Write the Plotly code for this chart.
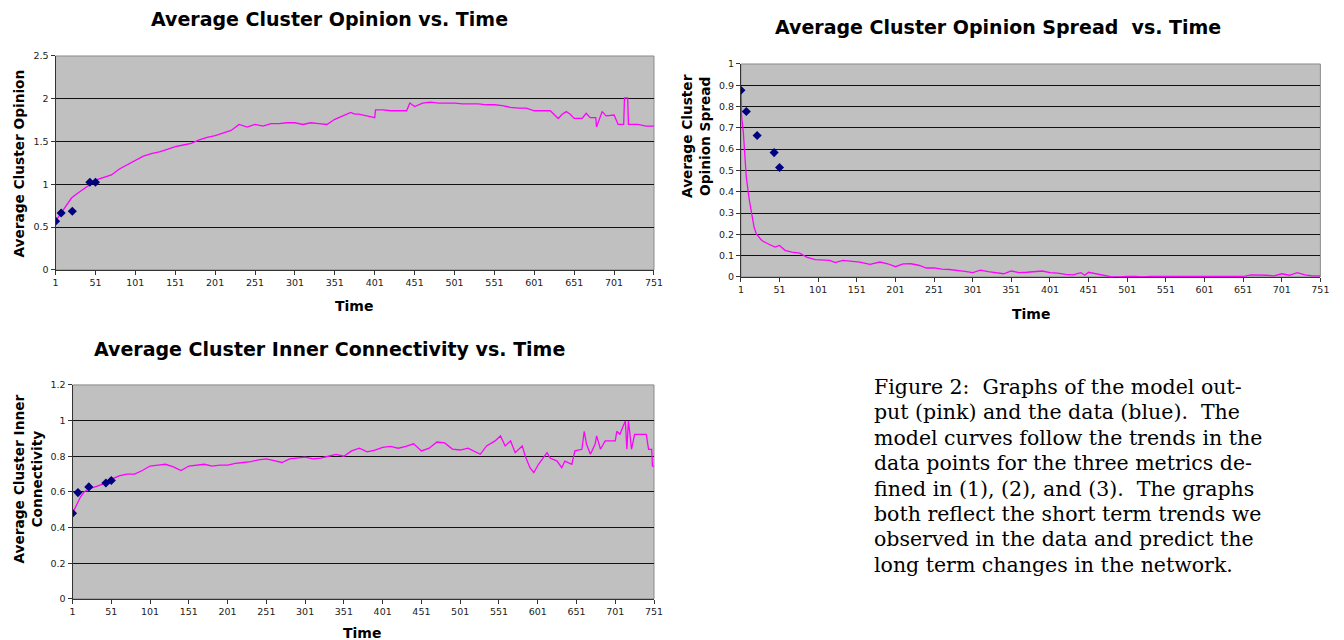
import plotly.graph_objects as go

W, H = 1344, 640

# ---------------- data ----------------
data_t = [1, 8, 22, 44, 51]
opinion_data = [0.57, 0.665, 0.685, 1.025, 1.025]
spread_data = [0.877, 0.777, 0.664, 0.584, 0.514]
connect_data = [0.480, 0.596, 0.628, 0.650, 0.664]

opinion_t = [1, 6, 11, 16, 21, 26, 31, 36, 41, 46, 51, 61, 71, 81, 91, 101, 111, 121, 131, 141,
             151, 161, 171, 181, 191, 201, 211, 221, 231, 241, 251, 261, 271, 281, 291, 301,
             311, 321, 331, 341, 351, 361, 371, 376, 381, 391, 401, 402, 411, 421, 431, 441,
             445, 451, 461, 471, 481, 491, 501, 511, 521, 531, 541, 551, 561, 571, 581, 591,
             601, 611, 621, 631, 636, 641, 646, 651, 661, 666, 671, 678, 679, 686, 691, 701,
             706, 713, 714, 718, 719, 731, 741, 751]
opinion_model = [0.57, 0.64, 0.70, 0.77, 0.84, 0.88, 0.91, 0.94, 0.97, 1.01, 1.05, 1.08, 1.11,
                 1.18, 1.23, 1.29, 1.33, 1.36, 1.38, 1.41, 1.44, 1.46, 1.48, 1.52, 1.55, 1.57,
                 1.60, 1.63, 1.70, 1.67, 1.70, 1.68, 1.71, 1.71, 1.72, 1.72, 1.70, 1.72, 1.71,
                 1.70, 1.76, 1.80, 1.84, 1.82, 1.82, 1.80, 1.78, 1.87, 1.87, 1.86, 1.86, 1.86,
                 1.95, 1.91, 1.95, 1.96, 1.95, 1.95, 1.95, 1.94, 1.94, 1.94, 1.93, 1.93, 1.92,
                 1.90, 1.89, 1.89, 1.86, 1.86, 1.86, 1.77, 1.82, 1.85, 1.82, 1.77, 1.77, 1.83,
                 1.78, 1.78, 1.67, 1.85, 1.80, 1.81, 1.70, 1.70, 2.01, 2.01, 1.70, 1.70, 1.68, 1.68]

spread_t = [1, 2, 4, 6, 8, 12, 15, 18, 21, 28, 36, 45, 51, 58, 67, 77, 86, 97, 116, 123, 133,
            155, 168, 181, 191, 201, 211, 221, 231, 241, 251, 261, 271, 281, 291, 301, 311, 321,
            331, 341, 351, 361, 371, 381, 391, 401, 411, 421, 431, 441, 446, 451, 461, 471, 481,
            491, 501, 511, 521, 531, 541, 561, 581, 601, 621, 641, 651, 661, 671, 681, 691, 701,
            711, 721, 731, 741, 751]
spread_model = [0.875, 0.75, 0.685, 0.545, 0.467, 0.358, 0.296, 0.234, 0.202, 0.171, 0.156,
                0.140, 0.148, 0.125, 0.117, 0.112, 0.093, 0.081, 0.078, 0.067, 0.078, 0.070,
                0.059, 0.070, 0.062, 0.048, 0.061, 0.062, 0.055, 0.042, 0.043, 0.037, 0.035,
                0.032, 0.026, 0.020, 0.032, 0.025, 0.020, 0.015, 0.028, 0.020, 0.022, 0.025,
                0.028, 0.020, 0.018, 0.012, 0.010, 0.020, 0.008, 0.022, 0.015, 0.005, 0.0, 0.0,
                0.003, 0.002, 0.0, 0.002, 0.002, 0.003, 0.002, 0.002, 0.002, 0.002, 0.002, 0.010,
                0.010, 0.008, 0.005, 0.015, 0.008, 0.020, 0.010, 0.005, 0.005]

connect_t = [1, 6, 11, 16, 21, 31, 41, 51, 61, 71, 81, 91, 101, 111, 121, 131, 141, 151, 161,
             171, 181, 191, 201, 211, 221, 231, 241, 251, 261, 271, 281, 291, 301, 311, 321, 331,
             341, 351, 361, 371, 381, 391, 401, 411, 421, 431, 441, 451, 461, 471, 481, 491, 501,
             511, 521, 527, 535, 546, 553, 559, 566, 572, 581, 585, 591, 596, 602, 613, 617, 626,
             632, 636, 645, 649, 658, 661, 664, 669, 675, 677, 682, 688, 701, 703, 707, 713, 714,
             716, 718, 720, 722, 726, 741, 744, 748, 749, 751]
connect_model = [0.48, 0.53, 0.57, 0.60, 0.615, 0.63, 0.645, 0.67, 0.69, 0.70, 0.70, 0.72, 0.745,
                 0.75, 0.755, 0.74, 0.72, 0.745, 0.75, 0.755, 0.745, 0.75, 0.75, 0.76, 0.765,
                 0.77, 0.78, 0.785, 0.775, 0.765, 0.785, 0.79, 0.795, 0.785, 0.79, 0.80, 0.81,
                 0.80, 0.83, 0.845, 0.825, 0.835, 0.85, 0.855, 0.845, 0.855, 0.87, 0.83, 0.845,
                 0.88, 0.875, 0.84, 0.835, 0.845, 0.825, 0.811, 0.858, 0.886, 0.914, 0.858, 0.886,
                 0.82, 0.858, 0.80, 0.736, 0.708, 0.755, 0.82, 0.79, 0.773, 0.736, 0.773, 0.755,
                 0.83, 0.839, 0.94, 0.867, 0.811, 0.867, 0.914, 0.839, 0.886, 0.886, 0.94, 0.923,
                 0.998, 0.998, 0.839, 0.998, 0.923, 0.839, 0.923, 0.923, 0.839, 0.839, 0.745, 0.745]

time_ticks = list(range(1, 752, 50))

titles = ["Average Cluster Opinion vs. Time",
          "Average Cluster Opinion Spread  vs. Time",
          "Average Cluster Inner Connectivity vs. Time"]

caption_lines = [
    "Figure 2:  Graphs of the model out-",
    "put (pink) and the data (blue).  The",
    "model curves follow the trends in the",
    "data points for the three metrics de-",
    "fined in (1), (2), and (3).  The graphs",
    "both reflect the short term trends we",
    "observed in the data and predict the",
    "long term changes in the network.",
]

# ---------------- layout helpers ----------------
# measured mapping of the photographed page: shown = 10.4 + 0.992*x, 13 + 0.983*y
def px(x):
    return ((x - 10.4) / 0.992) / W

def py(y):
    return 1 - ((y - 13.0) / 0.983) / H

PINK = "#FF00FF"
NAVY = "#000080"
BG = "#C0C0C0"
SANS = "DejaVu Sans"

# plot areas in reference pixels: (x0, x1, ytop, ybottom)
areas = [(55, 654, 55, 269), (741, 1321, 63, 276), (72, 654, 384, 598)]
yranges = [(0, 2.5, 0.5), (0, 1.0, 0.1), (0, 1.2, 0.2)]

fig = go.Figure()

series = [(opinion_t, opinion_model, opinion_data),
          (spread_t, spread_model, spread_data),
          (connect_t, connect_model, connect_data)]

for i, (mt, mv, dv) in enumerate(series):
    sfx = "" if i == 0 else str(i + 1)
    fig.add_trace(go.Scatter(x=mt, y=mv, mode="lines", line=dict(color=PINK, width=1.3),
                             xaxis="x" + sfx, yaxis="y" + sfx, showlegend=False))
    fig.add_trace(go.Scatter(x=data_t, y=dv, mode="markers",
                             marker=dict(symbol="diamond", color=NAVY, size=7),
                             xaxis="x" + sfx, yaxis="y" + sfx, showlegend=False))

layout = dict(width=W, height=H, margin=dict(l=0, r=0, t=0, b=0),
              paper_bgcolor="white", plot_bgcolor=BG, showlegend=False)

shapes = []
for i, ((x0, x1, yt, yb), (ylo, yhi, dt)) in enumerate(zip(areas, yranges)):
    sfx = "" if i == 0 else str(i + 1)
    layout["xaxis" + sfx] = dict(
        domain=[px(x0), px(x1)], anchor="y" + sfx, range=[1, 751],
        tickmode="array", tickvals=time_ticks, ticktext=[str(t) for t in time_ticks],
        showgrid=False, zeroline=False, showline=True, linecolor="#333333", linewidth=1,
        ticks="outside", ticklen=4, tickcolor="#333333",
        tickfont=dict(family=SANS, size=9.5, color="#222222"))
    layout["yaxis" + sfx] = dict(
        domain=[py(yb), py(yt)], anchor="x" + sfx, range=[ylo, yhi], dtick=dt, tick0=0,
        showgrid=True, gridcolor="#111111", gridwidth=1, zeroline=False,
        showline=True, linecolor="#333333", linewidth=1,
        ticks="outside", ticklen=4, tickcolor="#333333",
        tickfont=dict(family=SANS, size=9.5, color="#222222"))
    shapes.append(dict(type="rect", xref="paper", yref="paper",
                       x0=px(x0), x1=px(x1), y0=py(yb), y1=py(yt),
                       line=dict(color="#8a8a8a", width=1), layer="below"))

layout["shapes"] = shapes

ann = []
def text(x, y, s, size, bold=True, angle=0, family=SANS, xanchor="center"):
    ann.append(dict(x=px(x), y=py(y), xref="paper", yref="paper",
                    text=("<b>%s</b>" % s) if bold else s,
                    showarrow=False, textangle=angle, xanchor=xanchor, yanchor="middle",
                    font=dict(family=family, size=size, color="black")))

# titles
text(329, 18, titles[0], 19)
text(998, 26, titles[1], 19)
text(329, 348, titles[2], 19)
# x titles
text(354, 305, "Time", 14)
text(1031, 313, "Time", 14)
text(362, 632, "Time", 14)
# y titles
text(18, 163, "Average Cluster Opinion", 13.7, angle=-90)
text(687, 135, "Average Cluster", 13.7, angle=-90)
text(705, 135, "Opinion Spread", 13.7, angle=-90)
text(18, 478, "Average Cluster Inner", 13.7, angle=-90)
text(36, 478, "Connectivity", 13.7, angle=-90)

# caption
for k, line in enumerate(caption_lines):
    text(872, 386 + k * 25.4, line, 20.5, bold=False, family="DejaVu Serif", xanchor="left")

layout["annotations"] = ann
fig.update_layout(**layout)
fig.write_html("out.html")
